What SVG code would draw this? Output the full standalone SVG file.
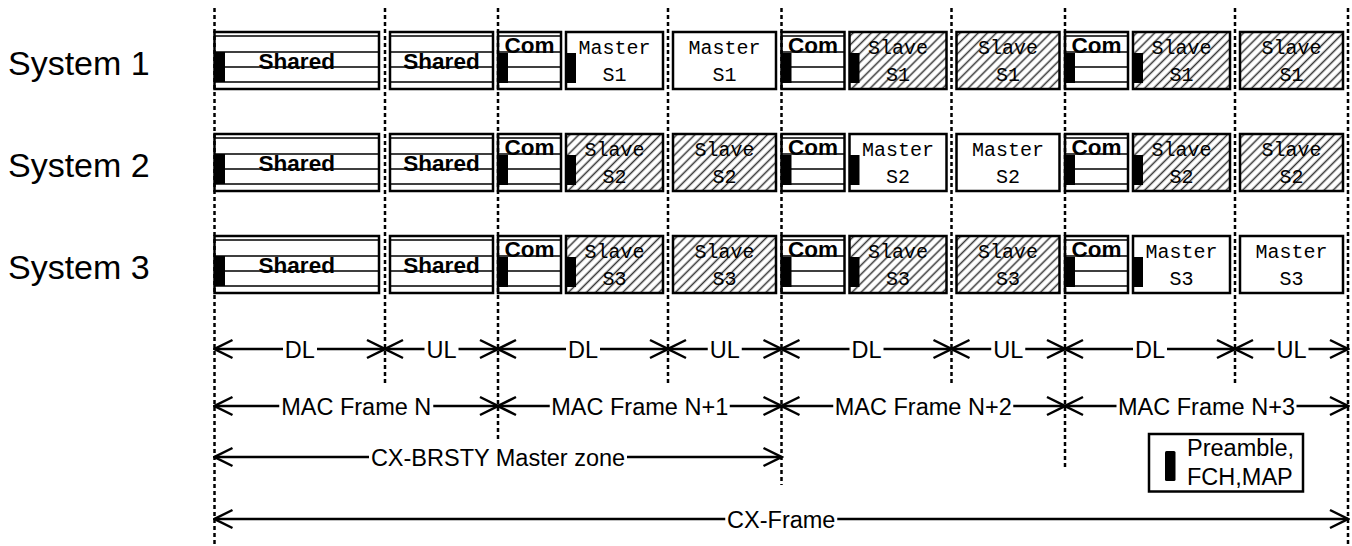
<svg xmlns="http://www.w3.org/2000/svg" width="1352" height="546" viewBox="0 0 1352 546">
<style>
text{font-family:"Liberation Sans",Arial,sans-serif;fill:#000;text-anchor:middle}
.sys{font-size:34px;text-anchor:start}
.lbl{font-size:23.5px}
.leg{font-size:23.5px;text-anchor:start}
.b{font-weight:bold;font-size:22.5px}
.m{font-family:"Liberation Mono","Courier New",monospace;font-size:20px}
.box{fill:#fff;stroke:#000;stroke-width:2.5}
.hat{fill:url(#hatch);stroke:#000;stroke-width:2.5}
.st{stroke:#000;stroke-width:1.5;fill:none}
.bar{fill:#000}
.dot{stroke:#000;stroke-width:2.5;stroke-dasharray:4 3}
.arr{stroke:#000;stroke-width:2.5;fill:none;marker-start:url(#ah);marker-end:url(#ah)}
.bg{fill:#fff}
</style>
<defs>
<pattern id="hatch" patternUnits="userSpaceOnUse" width="6.4" height="6.4" patternTransform="rotate(45)">
<rect width="6.4" height="6.4" fill="#fff"/>
<line x1="3.2" y1="0" x2="3.2" y2="6.4" stroke="#333" stroke-width="1.5"/>
</pattern>
<marker id="ah" viewBox="-20 -11 22 22" refX="0" refY="0" markerWidth="22" markerHeight="22" markerUnits="userSpaceOnUse" orient="auto-start-reverse">
<path d="M-18,-9 L0,0 L-18,9" fill="none" stroke="#000" stroke-width="2.5"/>
</marker>
</defs>
<rect width="1352" height="546" fill="#fff"/>

<g id="labels">
<text class="sys" x="8" y="75">System 1</text>
<text class="sys" x="8" y="177">System 2</text>
<text class="sys" x="8" y="279">System 3</text>
</g>

<!-- System 1 -->
<g id="s1-f1-dl" transform="translate(214.5,32)"><rect class="box" width="164.5" height="57"/><path class="st" d="M0,4H164.5M0,20H164.5M0,35H164.5M0,50H164.5"/><rect class="bar" y="20" width="10.5" height="30"/><text class="b" x="82.25" y="36.5">Shared</text></g>
<g id="s1-f1-ul" transform="translate(390,32)"><rect class="box" width="103" height="57"/><path class="st" d="M0,4H103M0,20H103M0,35H103M0,50H103"/><text class="b" x="51.5" y="36.5">Shared</text></g>
<g id="s1-f2-com" transform="translate(498,32)"><rect class="box" width="63" height="57"/><path class="st" d="M0,4H63M0,20H63M0,35H63M0,50H63"/><rect class="bar" y="21" width="10" height="30"/><text class="b" x="31.5" y="21">Com</text></g>
<g id="s1-f2-dl" transform="translate(566,32)"><rect class="box" width="97" height="57"/><rect class="bar" y="21" width="10" height="30"/><text class="m" x="48.5" y="21.5">Master</text><text class="m" x="48.5" y="48.5">S1</text></g>
<g id="s1-f2-ul" transform="translate(673,32)"><rect class="box" width="103" height="57"/><text class="m" x="51.5" y="21.5">Master</text><text class="m" x="51.5" y="48.5">S1</text></g>
<g id="s1-f3-com" transform="translate(781.5,32)"><rect class="box" width="63" height="57"/><path class="st" d="M0,4H63M0,20H63M0,35H63M0,50H63"/><rect class="bar" y="21" width="10" height="30"/><text class="b" x="31.5" y="21">Com</text></g>
<g id="s1-f3-dl" transform="translate(849.5,32)"><rect class="hat" width="97" height="57"/><rect class="bar" y="21" width="10" height="30"/><text class="m" x="48.5" y="21.5">Slave</text><text class="m" x="48.5" y="48.5">S1</text></g>
<g id="s1-f3-ul" transform="translate(956.5,32)"><rect class="hat" width="103" height="57"/><text class="m" x="51.5" y="21.5">Slave</text><text class="m" x="51.5" y="48.5">S1</text></g>
<g id="s1-f4-com" transform="translate(1065,32)"><rect class="box" width="63" height="57"/><path class="st" d="M0,4H63M0,20H63M0,35H63M0,50H63"/><rect class="bar" y="21" width="10" height="30"/><text class="b" x="31.5" y="21">Com</text></g>
<g id="s1-f4-dl" transform="translate(1133,32)"><rect class="hat" width="97" height="57"/><rect class="bar" y="21" width="10" height="30"/><text class="m" x="48.5" y="21.5">Slave</text><text class="m" x="48.5" y="48.5">S1</text></g>
<g id="s1-f4-ul" transform="translate(1240,32)"><rect class="hat" width="103" height="57"/><text class="m" x="51.5" y="21.5">Slave</text><text class="m" x="51.5" y="48.5">S1</text></g>

<!-- System 2 -->
<g id="s2-f1-dl" transform="translate(214.5,134)"><rect class="box" width="164.5" height="57"/><path class="st" d="M0,4H164.5M0,20H164.5M0,35H164.5M0,50H164.5"/><rect class="bar" y="20" width="10.5" height="30"/><text class="b" x="82.25" y="36.5">Shared</text></g>
<g id="s2-f1-ul" transform="translate(390,134)"><rect class="box" width="103" height="57"/><path class="st" d="M0,4H103M0,20H103M0,35H103M0,50H103"/><text class="b" x="51.5" y="36.5">Shared</text></g>
<g id="s2-f2-com" transform="translate(498,134)"><rect class="box" width="63" height="57"/><path class="st" d="M0,4H63M0,20H63M0,35H63M0,50H63"/><rect class="bar" y="21" width="10" height="30"/><text class="b" x="31.5" y="21">Com</text></g>
<g id="s2-f2-dl" transform="translate(566,134)"><rect class="hat" width="97" height="57"/><rect class="bar" y="21" width="10" height="30"/><text class="m" x="48.5" y="21.5">Slave</text><text class="m" x="48.5" y="48.5">S2</text></g>
<g id="s2-f2-ul" transform="translate(673,134)"><rect class="hat" width="103" height="57"/><text class="m" x="51.5" y="21.5">Slave</text><text class="m" x="51.5" y="48.5">S2</text></g>
<g id="s2-f3-com" transform="translate(781.5,134)"><rect class="box" width="63" height="57"/><path class="st" d="M0,4H63M0,20H63M0,35H63M0,50H63"/><rect class="bar" y="21" width="10" height="30"/><text class="b" x="31.5" y="21">Com</text></g>
<g id="s2-f3-dl" transform="translate(849.5,134)"><rect class="box" width="97" height="57"/><rect class="bar" y="21" width="10" height="30"/><text class="m" x="48.5" y="21.5">Master</text><text class="m" x="48.5" y="48.5">S2</text></g>
<g id="s2-f3-ul" transform="translate(956.5,134)"><rect class="box" width="103" height="57"/><text class="m" x="51.5" y="21.5">Master</text><text class="m" x="51.5" y="48.5">S2</text></g>
<g id="s2-f4-com" transform="translate(1065,134)"><rect class="box" width="63" height="57"/><path class="st" d="M0,4H63M0,20H63M0,35H63M0,50H63"/><rect class="bar" y="21" width="10" height="30"/><text class="b" x="31.5" y="21">Com</text></g>
<g id="s2-f4-dl" transform="translate(1133,134)"><rect class="hat" width="97" height="57"/><rect class="bar" y="21" width="10" height="30"/><text class="m" x="48.5" y="21.5">Slave</text><text class="m" x="48.5" y="48.5">S2</text></g>
<g id="s2-f4-ul" transform="translate(1240,134)"><rect class="hat" width="103" height="57"/><text class="m" x="51.5" y="21.5">Slave</text><text class="m" x="51.5" y="48.5">S2</text></g>

<!-- System 3 -->
<g id="s3-f1-dl" transform="translate(214.5,236)"><rect class="box" width="164.5" height="57"/><path class="st" d="M0,4H164.5M0,20H164.5M0,35H164.5M0,50H164.5"/><rect class="bar" y="20" width="10.5" height="30"/><text class="b" x="82.25" y="36.5">Shared</text></g>
<g id="s3-f1-ul" transform="translate(390,236)"><rect class="box" width="103" height="57"/><path class="st" d="M0,4H103M0,20H103M0,35H103M0,50H103"/><text class="b" x="51.5" y="36.5">Shared</text></g>
<g id="s3-f2-com" transform="translate(498,236)"><rect class="box" width="63" height="57"/><path class="st" d="M0,4H63M0,20H63M0,35H63M0,50H63"/><rect class="bar" y="21" width="10" height="30"/><text class="b" x="31.5" y="21">Com</text></g>
<g id="s3-f2-dl" transform="translate(566,236)"><rect class="hat" width="97" height="57"/><rect class="bar" y="21" width="10" height="30"/><text class="m" x="48.5" y="21.5">Slave</text><text class="m" x="48.5" y="48.5">S3</text></g>
<g id="s3-f2-ul" transform="translate(673,236)"><rect class="hat" width="103" height="57"/><text class="m" x="51.5" y="21.5">Slave</text><text class="m" x="51.5" y="48.5">S3</text></g>
<g id="s3-f3-com" transform="translate(781.5,236)"><rect class="box" width="63" height="57"/><path class="st" d="M0,4H63M0,20H63M0,35H63M0,50H63"/><rect class="bar" y="21" width="10" height="30"/><text class="b" x="31.5" y="21">Com</text></g>
<g id="s3-f3-dl" transform="translate(849.5,236)"><rect class="hat" width="97" height="57"/><rect class="bar" y="21" width="10" height="30"/><text class="m" x="48.5" y="21.5">Slave</text><text class="m" x="48.5" y="48.5">S3</text></g>
<g id="s3-f3-ul" transform="translate(956.5,236)"><rect class="hat" width="103" height="57"/><text class="m" x="51.5" y="21.5">Slave</text><text class="m" x="51.5" y="48.5">S3</text></g>
<g id="s3-f4-com" transform="translate(1065,236)"><rect class="box" width="63" height="57"/><path class="st" d="M0,4H63M0,20H63M0,35H63M0,50H63"/><rect class="bar" y="21" width="10" height="30"/><text class="b" x="31.5" y="21">Com</text></g>
<g id="s3-f4-dl" transform="translate(1133,236)"><rect class="box" width="97" height="57"/><rect class="bar" y="21" width="10" height="30"/><text class="m" x="48.5" y="21.5">Master</text><text class="m" x="48.5" y="48.5">S3</text></g>
<g id="s3-f4-ul" transform="translate(1240,236)"><rect class="box" width="103" height="57"/><text class="m" x="51.5" y="21.5">Master</text><text class="m" x="51.5" y="48.5">S3</text></g>

<g id="gridlines">
<line class="dot" x1="214.5" y1="8" x2="214.5" y2="546"/>
<line class="dot" x1="385" y1="8" x2="385" y2="383"/>
<line class="dot" x1="498" y1="8" x2="498" y2="442"/>
<line class="dot" x1="668" y1="8" x2="668" y2="383"/>
<line class="dot" x1="781.5" y1="8" x2="781.5" y2="485"/>
<line class="dot" x1="951.5" y1="8" x2="951.5" y2="383"/>
<line class="dot" x1="1065" y1="8" x2="1065" y2="468"/>
<line class="dot" x1="1235" y1="8" x2="1235" y2="383"/>
<line class="dot" x1="1348" y1="8" x2="1348" y2="546"/>
</g>

<g id="connectors">
<line class="arr" x1="214.5" y1="349" x2="385" y2="349"/>
<line class="arr" x1="385" y1="349" x2="498" y2="349"/>
<line class="arr" x1="498" y1="349" x2="668" y2="349"/>
<line class="arr" x1="668" y1="349" x2="781.5" y2="349"/>
<line class="arr" x1="781.5" y1="349" x2="951.5" y2="349"/>
<line class="arr" x1="951.5" y1="349" x2="1065" y2="349"/>
<line class="arr" x1="1065" y1="349" x2="1235" y2="349"/>
<line class="arr" x1="1235" y1="349" x2="1348" y2="349"/>
<line class="arr" x1="214.5" y1="406" x2="498" y2="406"/>
<line class="arr" x1="498" y1="406" x2="781.5" y2="406"/>
<line class="arr" x1="781.5" y1="406" x2="1065" y2="406"/>
<line class="arr" x1="1065" y1="406" x2="1348" y2="406"/>
<line class="arr" x1="214.5" y1="457" x2="781.5" y2="457"/>
<line class="arr" x1="214.5" y1="519" x2="1348" y2="519"/>
<g id="connector-labels">
<rect class="bg" x="283" y="337" width="34" height="24"/><text class="lbl" x="299.75" y="357.5">DL</text>
<rect class="bg" x="424.5" y="337" width="34" height="24"/><text class="lbl" x="441.5" y="357.5">UL</text>
<rect class="bg" x="566" y="337" width="34" height="24"/><text class="lbl" x="583" y="357.5">DL</text>
<rect class="bg" x="707.75" y="337" width="34" height="24"/><text class="lbl" x="724.75" y="357.5">UL</text>
<rect class="bg" x="849.5" y="337" width="34" height="24"/><text class="lbl" x="866.5" y="357.5">DL</text>
<rect class="bg" x="991.25" y="337" width="34" height="24"/><text class="lbl" x="1008.25" y="357.5">UL</text>
<rect class="bg" x="1133" y="337" width="34" height="24"/><text class="lbl" x="1150" y="357.5">DL</text>
<rect class="bg" x="1274.5" y="337" width="34" height="24"/><text class="lbl" x="1291.5" y="357.5">UL</text>
<rect class="bg" x="279.25" y="394" width="154" height="24"/><text class="lbl" x="356.25" y="414.5">MAC Frame N</text>
<rect class="bg" x="549.75" y="394" width="180" height="24"/><text class="lbl" x="639.75" y="414.5">MAC Frame N+1</text>
<rect class="bg" x="833.25" y="394" width="180" height="24"/><text class="lbl" x="923.25" y="414.5">MAC Frame N+2</text>
<rect class="bg" x="1116.5" y="394" width="180" height="24"/><text class="lbl" x="1206.5" y="414.5">MAC Frame N+3</text>
<rect class="bg" x="369" y="445" width="258" height="24"/><text class="lbl" x="498" y="465.5">CX-BRSTY Master zone</text>
<rect class="bg" x="725.25" y="507" width="112" height="24"/><text class="lbl" x="781.25" y="527.5">CX-Frame</text>
</g>
</g>

<g id="legend">
<rect class="box" x="1149" y="434" width="154" height="57.5"/>
<rect class="bar" x="1165" y="451" width="10.5" height="30" rx="1.5"/>
<text class="leg" x="1187" y="456">Preamble,</text>
<text class="leg" x="1187" y="485">FCH,MAP</text>
</g>
</svg>
